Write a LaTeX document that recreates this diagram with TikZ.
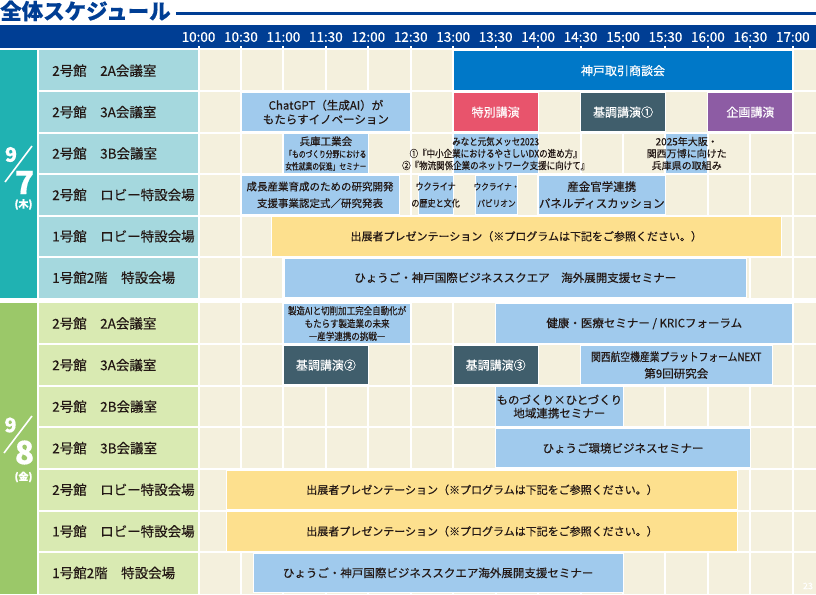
\documentclass[tikz,border=0pt]{standalone}
\usepackage{fontspec}
\setmainfont{Noto Sans CJK JP}[FakeBold=0.35]
\newfontfamily\narrowjp{Noto Sans CJK JP}[FakeStretch=0.85, FakeBold=0.35]
\newfontfamily\condjp{Noto Sans CJK JP}[FakeStretch=0.75, FakeBold=0.35]
\usepackage{tikz}
\usetikzlibrary{positioning}

\definecolor{navy}{RGB}{0,62,148}
\definecolor{ink}{RGB}{35,24,21}
\definecolor{tealday}{RGB}{32,178,178}
\definecolor{tealroom}{RGB}{165,216,222}
\definecolor{greenday}{RGB}{155,200,105}
\definecolor{greenroom}{RGB}{217,234,178}
\definecolor{cream}{RGB}{244,240,221}
\definecolor{kobeblue}{RGB}{0,120,200}
\definecolor{skyblue}{RGB}{160,202,237}
\definecolor{rosered}{RGB}{232,84,108}
\definecolor{slategrey}{RGB}{64,94,108}
\definecolor{plum}{RGB}{141,92,164}
\definecolor{sunny}{RGB}{253,224,142}

% one event bar: style, name, from x, to x, row y, text
\newcommand{\evt}[6]{%
	\node[evtbox,#1,minimum width={#4-#3}] (#2) at ({(#3+#4)/2},#5) {};
	\node[#1,evtlbl] (#2_t) at (#2.center) {#6};}

\tikzset{
	gridline/.style={white, line width=2pt},
	titlerule/.style={navy, line width=3pt},
	timelbl/.style={text=white, inner sep=0pt, font=\fontsize{13.5}{14}\selectfont},
	roomlbl/.style={anchor=west, inner sep=0pt, text=ink, font=\fontsize{13.5}{14}\selectfont},
	evtbox/.style={draw=white, line width=1pt, inner sep=0pt, minimum height=39.4pt},
	evtlbl/.style={fill=none, draw=none, inner sep=0pt, align=center},
	skybar/.style={fill=skyblue, text=ink, font=\fontsize{11.5}{14}\selectfont},
	sunbar/.style={fill=sunny, text=ink, font=\fontsize{11}{14}\selectfont},
	bluebar/.style={fill=kobeblue, text=white, font=\fontsize{12}{14}\selectfont},
	rosebar/.style={fill=rosered, text=white, font=\fontsize{12}{14}\selectfont},
	slatebar/.style={fill=slategrey, text=white, font=\fontsize{12}{14}\selectfont},
	plumbar/.style={fill=plum, text=white, font=\fontsize{12}{14}\selectfont}
}

\begin{document}
\begin{tikzpicture}[x=1pt,y=-1pt]
	\useasboundingbox (0,0) rectangle (816,594);

	% title
	\node[anchor=west, inner sep=0pt, text=navy, font=\bfseries\fontsize{21.5}{22}\selectfont] (title) at (0,11) {全体スケジュール};
	\coordinate (rule_end) at (816,13.6);
	\draw[titlerule, shorten <=5pt] (title.east |- rule_end) -- (rule_end);

	% header and backgrounds
	\fill[navy] (0,25) rectangle (816,48.3);
	\fill[tealday] (0,50) rectangle (36.7,298.4);
	\fill[tealroom] (38.7,50) rectangle (198,298.4);
	\fill[cream] (198,50) rectangle (816,298.4);
	\fill[greenday] (0,302.7) rectangle (36.7,594);
	\fill[greenroom] (38.7,302.7) rectangle (198,594);
	\fill[cream] (198,302.7) rectangle (816,594);

	\foreach \i in {0,...,14}
		\draw[gridline] ({198.5+42.45*\i},46) -- ({198.5+42.45*\i},594);
	\foreach \j in {1,...,5}
		\draw[gridline] (38.7,{50+41.4*\j}) -- (816,{50+41.4*\j});
	\foreach \j in {1,...,6}
		\draw[gridline] (38.7,{302.7+41.57*\j}) -- (816,{302.7+41.57*\j});

	\foreach \i/\t in {0/10:00,1/10:30,2/11:00,3/11:30,4/12:00,5/12:30,6/13:00,7/13:30,8/14:00,9/14:30,10/15:00,11/15:30,12/16:00,13/16:30,14/17:00}
		\node[timelbl] (time_\i) at ({198.5+42.45*\i},37) {\t};

	% days
	\node[text=white, inner sep=0pt, font=\bfseries\fontsize{20}{20}\selectfont] (day7_m) at (11,154.5) {9};
	\draw[white, line width=1.6pt] (5,182) -- (32,146);
	\node[text=white, inner sep=0pt, font=\bfseries\fontsize{32}{32}\selectfont] (day7_d) at (24.5,182.5) {7};
	\node[text=white, inner sep=0pt, font=\bfseries\fontsize{10}{10}\selectfont] (day7_w) at (23.5,204.5) {(木)};

	\node[text=white, inner sep=0pt, font=\bfseries\fontsize{20}{20}\selectfont] (day8_m) at (10.5,425) {9};
	\draw[white, line width=1.6pt] (4,453) -- (32,416);
	\node[text=white, inner sep=0pt, font=\bfseries\fontsize{32}{32}\selectfont] (day8_d) at (24.5,452.5) {8};
	\node[text=white, inner sep=0pt, font=\bfseries\fontsize{10}{10}\selectfont] (day8_w) at (23.5,477) {(金)};

	% rooms
	\foreach \j/\room in {1/2号館　2A会議室,2/2号館　3A会議室,3/2号館　3B会議室,4/2号館　ロビー特設会場,5/1号館　ロビー特設会場,6/1号館2階　特設会場}
		\node[roomlbl] (room7_\j) at (52,{50+41.4*(\j-0.5)}) {\room};
	\foreach \j/\room in {1/2号館　2A会議室,2/2号館　3A会議室,3/2号館　2B会議室,4/2号館　3B会議室,5/2号館　ロビー特設会場,6/1号館　ロビー特設会場,7/1号館2階　特設会場}
		\node[roomlbl] (room8_\j) at (52,{302.7+41.57*(\j-0.5)}) {\room};

	% 9/7
	\evt{bluebar}{kobe}{453.2}{792.8}{70.7}{神戸取引商談会}
	\evt{skybar}{chatgpt}{241}{410.8}{112.1}{ChatGPT（生成AI）が\\もたらすイノベーション}
	\evt{rosebar}{special}{453.2}{538.1}{112.1}{特別講演}
	\evt{slatebar}{keynote_1}{580.6}{665.5}{112.1}{基調講演①}
	\evt{plumbar}{planned}{707.9}{792.8}{112.1}{企画講演}
	\evt{skybar, font=\condjp\fontsize{9}{12.2}\selectfont}{hyogo}{283.4}{368.3}{153.5}{{\normalfont\fontsize{10.5}{12.2}\selectfont 兵庫工業会}\\「ものづくり分野における\\女性就業の促進」セミナー}
	\evt{skybar, font=\narrowjp\fontsize{10}{12}\selectfont}{minato}{453.2}{538.1}{153.5}{みなと元気メッセ2023\\①『中小企業におけるやさしいDXの進め方』\\②『物流関係企業のネットワーク支援に向けて』}
	\evt{skybar, font=\fontsize{10}{12}\selectfont}{expo}{665.5}{707.9}{153.5}{2025年大阪・\\関西万博に向けた\\兵庫県の取組み}
	\evt{skybar, font=\fontsize{10.5}{16.7}\selectfont}{seicho}{241}{399}{194.9}{成長産業育成のための研究開発\\支援事業認定式／研究発表}
	\evt{skybar, font=\narrowjp\fontsize{9.5}{16.7}\selectfont}{ukraine_1}{418}{453.2}{194.9}{ウクライナ\\の歴史と文化}
	\evt{skybar, font=\narrowjp\fontsize{9}{16.7}\selectfont}{ukraine_2}{475.5}{517.5}{194.9}{ウクライナ・\\パビリオン}
	\evt{skybar, font=\fontsize{11.5}{16.7}\selectfont}{panel}{538.1}{665.5}{194.9}{産金官学連携\\パネルディスカッション}
	\evt{sunbar}{present_1}{271}{781.5}{236.3}{出展者プレゼンテーション（※プログラムは下記をご参照ください。）}
	\evt{skybar}{bizsq_1}{284}{746.5}{277.7}{ひょうご・神戸国際ビジネススクエア　海外展開支援セミナー}

	% 9/8
	\evt{skybar, font=\narrowjp\fontsize{10}{12.8}\selectfont}{seizo}{283.4}{410.8}{323.5}{製造AIと切削加工完全自動化が\\もたらす製造業の未来\\―産学連携の挑戦―}
	\evt{skybar}{health}{495.7}{792.8}{323.5}{健康・医療セミナー / KRICフォーラム}
	\evt{slatebar}{keynote_2}{283.4}{368.3}{365.1}{基調講演②}
	\evt{slatebar}{keynote_3}{453.2}{538.1}{365.1}{基調講演③}
	\evt{skybar, font=\fontsize{11.5}{16.7}\selectfont}{aero}{580.6}{772}{365.1}{{\narrowjp 関西航空機産業プラットフォームNEXT}\\第9回研究会}
	\evt{skybar, font=\fontsize{11.5}{13.3}\selectfont}{monozukuri}{495.7}{623}{406.6}{ものづくり×ひとづくり\\地域連携セミナー}
	\evt{skybar}{kankyo}{495.7}{750.4}{448.2}{ひょうご環境ビジネスセミナー}
	\evt{sunbar}{present_2}{226.7}{737.3}{489.8}{出展者プレゼンテーション（※プログラムは下記をご参照ください。）}
	\evt{sunbar}{present_3}{226.7}{737.3}{531.3}{出展者プレゼンテーション（※プログラムは下記をご参照ください。）}
	\evt{skybar}{bizsq_2}{253.3}{623}{572.9}{ひょうご・神戸国際ビジネススクエア海外展開支援セミナー}

	\node[text=white, inner sep=0pt, font=\fontsize{9}{9}\selectfont] (page_no) at (808,586) {23};
\end{tikzpicture}
\end{document}
